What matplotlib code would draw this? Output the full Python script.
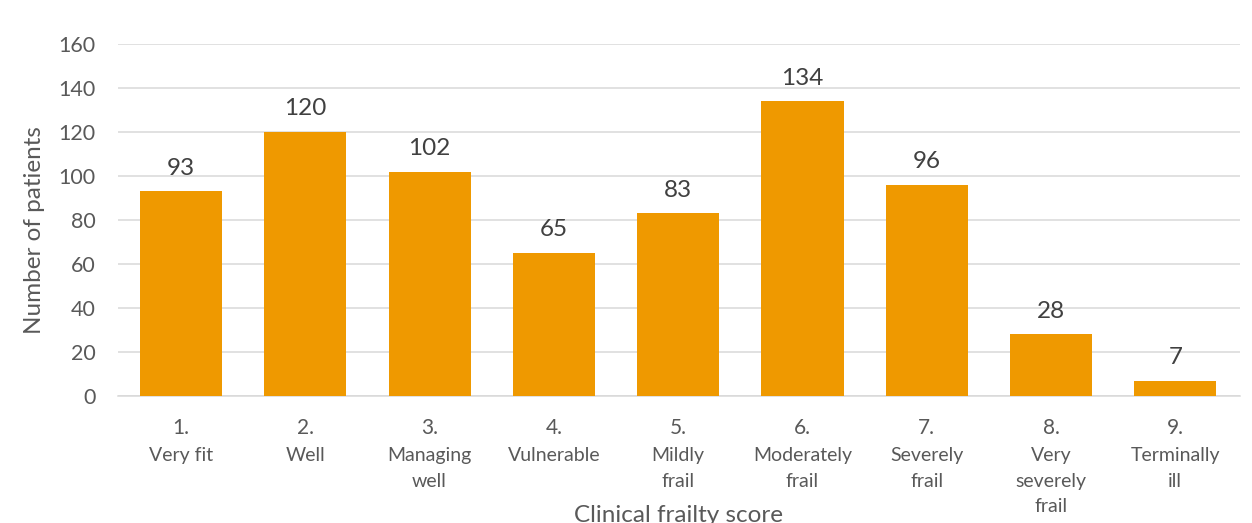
import matplotlib.pyplot as plt

# Clinical frailty score distribution
scores = ["1.", "2.", "3.", "4.", "5.", "6.", "7.", "8.", "9."]
names = ["Very fit", "Well", "Managing\nwell", "Vulnerable", "Mildly\nfrail",
         "Moderately\nfrail", "Severely\nfrail", "Very\nseverely\nfrail", "Terminally\nill"]
patients = [93, 120, 102, 65, 83, 134, 96, 28, 7]
y_ticks = [0, 20, 40, 60, 80, 100, 120, 140, 160]

plt.rcParams["font.family"] = ["Lato", "DejaVu Sans"]
text_color = "#595959"
bar_color = "#EF9900"

fig = plt.figure(figsize=(12.52, 5.23), dpi=100)
ax = fig.add_axes([118 / 1252, 127 / 523, 1122 / 1252, 352 / 523])

x = list(range(len(patients)))
bars = ax.bar(x, patients, width=0.66, color=bar_color, zorder=3)

for rect, val in zip(bars, patients):
    ax.annotate(str(val), (rect.get_x() + rect.get_width() / 2, rect.get_height()),
                xytext=(0, 9), textcoords="offset points", ha="center", va="bottom",
                fontsize=17.5, color="#404040")

ax.set_xlim(-0.507, 8.52)
ax.set_ylim(0, 160)
ax.set_yticks(y_ticks)
ax.set_yticklabels([str(t) for t in y_ticks], fontsize=15.5, color=text_color)
ax.tick_params(axis="y", length=0, pad=16)
ax.grid(axis="y", color="#d9d9d9", linewidth=1.1, zorder=0)

ax.set_xticks(x)
ax.set_xticklabels([])
ax.tick_params(axis="x", length=0)
for xi, s, n in zip(x, scores, names):
    ax.annotate(s, (xi, 0), xytext=(0, -16), textcoords="offset points",
                ha="center", va="top", fontsize=15, color=text_color,
                annotation_clip=False)
    ax.annotate(n, (xi, 0), xytext=(0, -37), textcoords="offset points",
                ha="center", va="top", fontsize=14, color=text_color,
                linespacing=1.6, annotation_clip=False)

for side in ["top", "right", "left"]:
    ax.spines[side].set_visible(False)
ax.spines["bottom"].set_color("#d9d9d9")
ax.spines["bottom"].set_linewidth(1.1)

fig.text(679 / 1252, 1 - 515 / 523, "Clinical frailty score", ha="center", va="center",
         fontsize=17.5, color=text_color)
fig.text(35 / 1252, 1 - 230 / 523, "Number of patients", ha="center", va="center",
         rotation=90, fontsize=17.5, color=text_color)

fig.savefig("out.png", dpi=100, facecolor="white")
